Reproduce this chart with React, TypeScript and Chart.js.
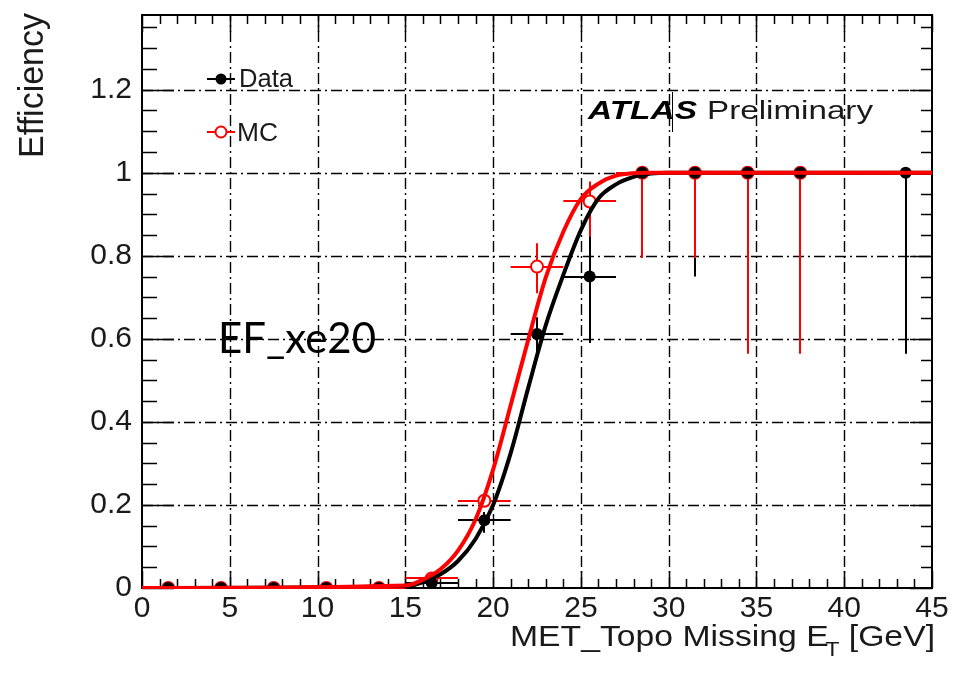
import React, { useEffect, useRef } from "react";
import { Chart, registerables } from "chart.js";

Chart.register(...registerables);

// ---------- data ----------
const binCenters = [1.5, 4.5, 7.5, 10.5, 13.5, 16.5, 19.5, 22.5, 25.5, 28.5, 31.5, 34.5, 37.5, 43.5];
const binHalfWidth = 1.5;
const dataEff = [0, 0, 0, 0, 0, 0.012, 0.163, 0.612, 0.75, 1, 1, 1, 1, 1];
const dataErrLow = [0, 0, 0, 0, 0, 0.01, 0.03, 0.05, 0.16, 0.15, 0.25, 0.3, 0.3, 0.436];
const dataErrHigh = [0, 0, 0, 0, 0, 0.01, 0.02, 0.04, 0.1, 0, 0, 0, 0, 0];

const mcCenters = [1.5, 4.5, 7.5, 10.5, 13.5, 16.5, 19.5, 22.5, 25.5, 28.5, 31.5, 34.5, 37.5];
const mcEff = [0, 0, 0, 0, 0, 0.023, 0.21, 0.774, 0.931, 1, 1, 1, 1];
const mcErrLow = [0, 0, 0, 0, 0, 0.01, 0.015, 0.064, 0.085, 0.205, 0.205, 0.436, 0.436];
const mcErrHigh = [0, 0, 0, 0, 0, 0.01, 0.015, 0.056, 0.048, 0, 0, 0, 0];

const fitX = [0, 15, 16, 17, 18, 19, 20, 21, 22, 23, 24, 25, 26, 27, 28, 29, 30, 45];
const dataFit = [0, 0.004, 0.014, 0.033, 0.065, 0.118, 0.2, 0.325, 0.482, 0.633, 0.754, 0.862, 0.938, 0.972, 0.99, 0.998, 1, 1];
const mcFit = [0, 0.006, 0.02, 0.045, 0.09, 0.165, 0.285, 0.44, 0.598, 0.748, 0.858, 0.937, 0.974, 0.993, 0.999, 1, 1, 1];

const xTickValues = [0, 5, 10, 15, 20, 25, 30, 35, 40, 45];
const yTickValues = [0, 0.2, 0.4, 0.6, 0.8, 1, 1.2];
const xGridValues = [5, 10, 15, 20, 25, 30, 35, 40];
const yGridValues = [0.2, 0.4, 0.6, 0.8, 1, 1.2];

const xTitleMain = "MET_Topo Missing E";
const xTitleSub = "T";
const xTitleUnit = " [GeV]";
const yTitle = "Efficiency";
const legendLabels = ["Data", "MC"];
const atlasLabel = "ATLAS";
const prelimLabel = "Preliminary";
const triggerLabel = "EF_xe20";

const FONT = '"Liberation Sans", Arial, Helvetica, sans-serif';

function fitText(ctx: CanvasRenderingContext2D, text: string, x: number, y: number, font: string, width: number, color: string) {
  ctx.save();
  ctx.font = font;
  ctx.fillStyle = color;
  ctx.textAlign = "left";
  ctx.textBaseline = "alphabetic";
  const w = ctx.measureText(text).width;
  ctx.translate(x, y);
  ctx.scale(width / w, 1);
  ctx.fillText(text, 0, 0);
  ctx.restore();
}

const rootPlugin = {
  id: "rootStyle",
  beforeDatasetsDraw(chart: any) {
    const { ctx, chartArea: a, scales } = chart;
    const xs = scales.x;
    const ys = scales.y;
    ctx.save();
    // dash-dot grid
    ctx.strokeStyle = "#000";
    ctx.lineWidth = 1.4;
    ctx.setLineDash([11, 4, 2, 4]);
    for (const v of xGridValues) {
      const px = Math.round(xs.getPixelForValue(v)) + 0.5;
      ctx.beginPath();
      ctx.moveTo(px, a.bottom);
      ctx.lineTo(px, a.top);
      ctx.stroke();
    }
    for (const v of yGridValues) {
      const py = Math.round(ys.getPixelForValue(v)) + 0.5;
      ctx.beginPath();
      ctx.moveTo(a.left, py);
      ctx.lineTo(a.right, py);
      ctx.stroke();
    }
    ctx.setLineDash([]);

    // ticks (inward, on all four sides)
    ctx.lineWidth = 1.5;
    for (let v = 0; v <= 45; v += 1) {
      const px = Math.round(xs.getPixelForValue(v)) + 0.5;
      const len = v % 5 === 0 ? 17 : 9;
      ctx.beginPath();
      ctx.moveTo(px, a.bottom);
      ctx.lineTo(px, a.bottom - len);
      ctx.moveTo(px, a.top);
      ctx.lineTo(px, a.top + len);
      ctx.stroke();
    }
    for (let i = 0; i <= 27; i++) {
      const v = i * 0.05;
      const py = Math.round(ys.getPixelForValue(v)) + 0.5;
      const len = i % 4 === 0 ? 32 : 15;
      const lenR = i % 4 === 0 ? 22 : 11;
      ctx.beginPath();
      ctx.moveTo(a.left, py);
      ctx.lineTo(a.left + len, py);
      ctx.moveTo(a.right, py);
      ctx.lineTo(a.right - lenR, py);
      ctx.stroke();
    }
    // frame
    ctx.lineWidth = 2;
    ctx.strokeRect(a.left, a.top, a.right - a.left, a.bottom - a.top);

    // error bars
    const drawErr = (cx: number[], eff: number[], lo: number[], hi: number[], color: string) => {
      ctx.strokeStyle = color;
      ctx.lineWidth = 2;
      for (let i = 0; i < cx.length; i++) {
        const px = Math.round(xs.getPixelForValue(cx[i]));
        const py = Math.round(ys.getPixelForValue(eff[i]));
        const x0 = xs.getPixelForValue(cx[i] - binHalfWidth);
        const x1 = xs.getPixelForValue(cx[i] + binHalfWidth);
        ctx.beginPath();
        ctx.moveTo(x0, py);
        ctx.lineTo(x1, py);
        ctx.moveTo(px, ys.getPixelForValue(eff[i] - lo[i]));
        ctx.lineTo(px, ys.getPixelForValue(eff[i] + hi[i]));
        ctx.stroke();
      }
    };
    drawErr(binCenters, dataEff, dataErrLow, dataErrHigh, "#000");
    drawErr(mcCenters, mcEff, mcErrLow, mcErrHigh, "#ff0000");
    ctx.restore();
  },
  afterDraw(chart: any) {
    const { ctx } = chart;
    ctx.save();
    // y title (rotated, aligned to top)
    ctx.save();
    ctx.font = `34px ${FONT}`;
    ctx.fillStyle = "#1a1a1a";
    ctx.translate(43, 13);
    ctx.scale(1.05, 1);
    ctx.rotate(-Math.PI / 2);
    ctx.textAlign = "right";
    ctx.textBaseline = "alphabetic";
    ctx.fillText(yTitle, 0, 0);
    ctx.restore();

    // x title with subscript, right aligned
    ctx.save();
    const mainFont = `29px ${FONT}`;
    const subFont = `20px ${FONT}`;
    ctx.font = mainFont;
    const w1 = ctx.measureText(xTitleMain).width;
    const w3 = ctx.measureText(xTitleUnit).width;
    ctx.font = subFont;
    const w2 = ctx.measureText(xTitleSub).width - 3;
    const total = w1 + w2 + w3;
    const target = 425;
    const sx = target / total;
    ctx.translate(935 - target, 646);
    ctx.scale(sx, 1);
    ctx.fillStyle = "#1a1a1a";
    ctx.textBaseline = "alphabetic";
    ctx.textAlign = "left";
    ctx.font = mainFont;
    ctx.fillText(xTitleMain, 0, 0);
    ctx.font = subFont;
    ctx.fillText(xTitleSub, w1 - 3, 10);
    ctx.font = mainFont;
    ctx.fillText(xTitleUnit, w1 + w2, 0);
    ctx.restore();

    // legend
    ctx.lineWidth = 2;
    ctx.strokeStyle = "#000";
    ctx.beginPath();
    ctx.moveTo(207, 79);
    ctx.lineTo(235, 79);
    ctx.stroke();
    ctx.fillStyle = "#000";
    ctx.beginPath();
    ctx.arc(221, 79, 5.5, 0, Math.PI * 2);
    ctx.fill();
    ctx.strokeStyle = "#ff0000";
    ctx.beginPath();
    ctx.moveTo(207, 132);
    ctx.lineTo(235, 132);
    ctx.stroke();
    ctx.fillStyle = "#fff";
    ctx.beginPath();
    ctx.arc(221, 132, 5.5, 0, Math.PI * 2);
    ctx.fill();
    ctx.stroke();
    fitText(ctx, legendLabels[0], 239, 87, `25px ${FONT}`, 54, "#1a1a1a");
    fitText(ctx, legendLabels[1], 237, 141, `25px ${FONT}`, 41, "#1a1a1a");

    // ATLAS Preliminary
    fitText(ctx, atlasLabel, 588, 119, `italic bold 26px ${FONT}`, 109, "#000");
    fitText(ctx, prelimLabel, 707, 119, `26px ${FONT}`, 166, "#1a1a1a");
    ctx.strokeStyle = "#000";
    ctx.lineWidth = 1;
    ctx.beginPath();
    ctx.moveTo(672.5, 92);
    ctx.lineTo(672.5, 132);
    ctx.stroke();

    // trigger label
    fitText(ctx, triggerLabel, 218, 353, `42px Lato, "Open Sans", sans-serif`, 158, "#000");
    ctx.restore();
  },
};

export default function App() {
  const canvasRef = useRef<HTMLCanvasElement | null>(null);

  useEffect(() => {
    const canvas = canvasRef.current;
    if (!canvas) return;
    const chart = new Chart(canvas, {
      type: "scatter",
      data: {
        datasets: [
          {
            type: "line",
            label: "MC fit",
            data: fitX.map((x, i) => ({ x, y: mcFit[i] })),
            borderColor: "#ff0000",
            borderWidth: 4,
            pointRadius: 0,
            fill: false,
            cubicInterpolationMode: "monotone",
            order: 0,
          },
          {
            type: "line",
            label: "Data fit",
            data: fitX.map((x, i) => ({ x, y: dataFit[i] })),
            borderColor: "#000",
            borderWidth: 4,
            pointRadius: 0,
            fill: false,
            cubicInterpolationMode: "monotone",
            order: 1,
          },
          {
            label: legendLabels[0],
            data: binCenters.map((x, i) => ({ x, y: dataEff[i] })),
            backgroundColor: "#000",
            borderColor: "#000",
            borderWidth: 0,
            pointRadius: 6,
            pointStyle: "circle",
            showLine: false,
            order: 2,
          },
          {
            label: legendLabels[1],
            data: mcCenters.map((x, i) => ({ x, y: mcEff[i] })),
            backgroundColor: "#fff",
            borderColor: "#ff0000",
            borderWidth: 2,
            pointRadius: 6,
            pointStyle: "circle",
            showLine: false,
            order: 3,
          },
        ],
      } as any,
      options: {
        responsive: false,
        animation: false,
        devicePixelRatio: 1,
        layout: { padding: { left: 0, right: 23, top: 15, bottom: 0 } },
        plugins: { legend: { display: false }, tooltip: { enabled: false } },
        scales: {
          x: {
            type: "linear",
            position: "bottom",
            min: 0,
            max: 45,
            grid: { display: false, drawTicks: false },
            border: { display: false },
            afterBuildTicks: (s: any) => {
              s.ticks = xTickValues.map((v) => ({ value: v }));
            },
            afterFit: (s: any) => {
              s.height = 96;
              s.paddingLeft = 0;
              s.paddingRight = 0;
              s.paddingTop = 0;
              s.paddingBottom = 0;
            },
            ticks: {
              autoSkip: false,
              maxRotation: 0,
              padding: 3,
              color: "#1a1a1a",
              font: { family: FONT, size: 30 },
              callback: (v: any) => String(v),
            },
          },
          y: {
            type: "linear",
            min: 0,
            max: 1.38,
            grid: { display: false, drawTicks: false },
            border: { display: false },
            afterBuildTicks: (s: any) => {
              s.ticks = yTickValues.map((v) => ({ value: v }));
            },
            afterFit: (s: any) => {
              s.width = 142;
              s.paddingLeft = 0;
              s.paddingRight = 0;
              s.paddingTop = 0;
              s.paddingBottom = 0;
            },
            ticks: {
              padding: 10,
              color: "#1a1a1a",
              font: { family: FONT, size: 30 },
              callback: (v: any) => {
                const n = Number(v);
                return Number.isInteger(n) ? String(n) : n.toFixed(1);
              },
            },
          },
        },
      } as any,
      plugins: [rootPlugin],
    });
    return () => chart.destroy();
  }, []);

  return (
    <div style={{ position: "absolute", left: 0, top: 0, width: 955, height: 684, background: "#fff" }}>
      <canvas ref={canvasRef} width={955} height={684} style={{ display: "block" }} />
    </div>
  );
}
